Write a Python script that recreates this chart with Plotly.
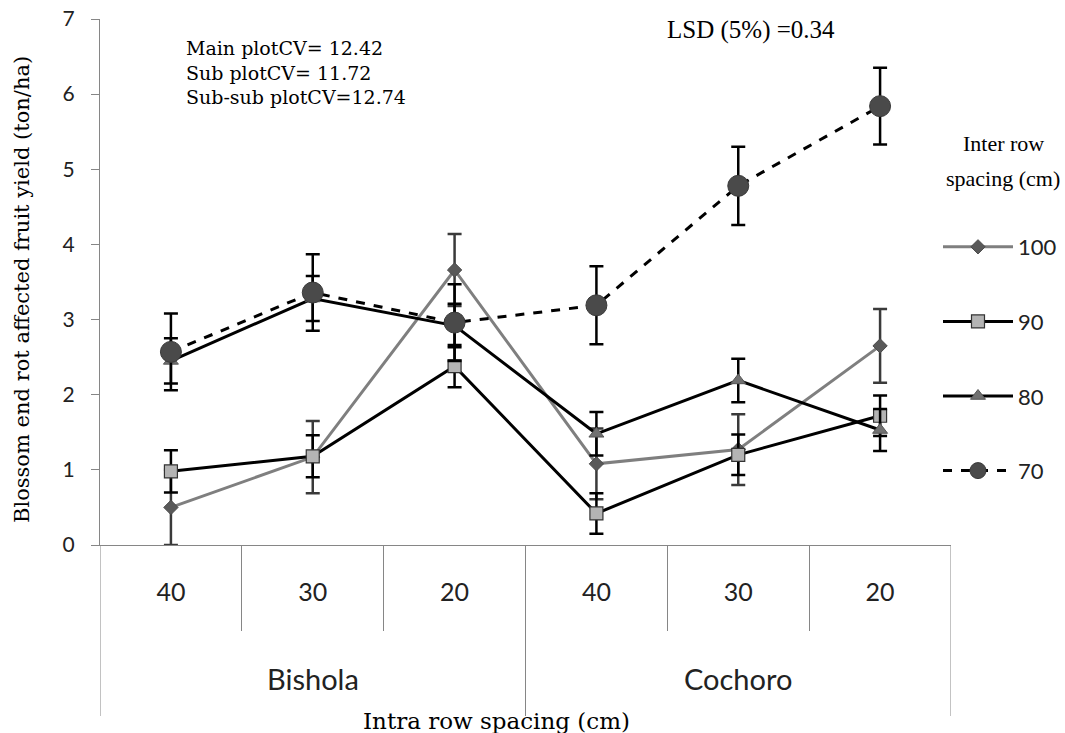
import plotly.graph_objects as go

# ---- data ----
locations = ["Bishola", "Bishola", "Bishola", "Cochoro", "Cochoro", "Cochoro"]
intra_spacing = ["40", "30", "20", "40", "30", "20"]
group_names = ["Bishola", "Cochoro"]

series_names = ["100", "90", "80", "70"]
v100 = [0.50, 1.17, 3.66, 1.08, 1.27, 2.65]
v90 = [0.98, 1.18, 2.38, 0.42, 1.20, 1.72]
v80 = [2.45, 3.28, 2.92, 1.48, 2.19, 1.53]
v70 = [2.57, 3.36, 2.96, 3.19, 4.78, 5.84]

e100 = [0.50, 0.48, 0.48, 0.47, 0.47, 0.49]
e90 = [0.28, 0.28, 0.28, 0.27, 0.27, 0.27]
e80 = [0.30, 0.30, 0.29, 0.29, 0.29, 0.28]
e70 = [0.51, 0.51, 0.51, 0.52, 0.52, 0.51]

y_ticks = [0, 1, 2, 3, 4, 5, 6, 7]

# ---- styling ----
x_pos = list(range(len(intra_spacing)))
AXIS_GREY = "#868686"
SERIF = "Liberation Serif"
BOOK = "DejaVu Serif"
SANS = "Lato"

styles = {
    "100": dict(line=dict(color="#7f7f7f", width=3),
                marker=dict(symbol="diamond", size=11, color="#595959",
                            line=dict(color="#4a4a4a", width=1)),
                err="#3a3a3a"),
    "90": dict(line=dict(color="#000000", width=3),
               marker=dict(symbol="square", size=13, color="#b4b4b4",
                           line=dict(color="#333333", width=1.2)),
               err="#000000"),
    "80": dict(line=dict(color="#000000", width=3),
               marker=dict(symbol="triangle-up", size=13, color="#707070",
                           line=dict(color="#555555", width=1)),
               err="#000000"),
    "70": dict(line=dict(color="#000000", width=3, dash="dash"),
               marker=dict(symbol="circle", size=21, color="#4a4a4a",
                           line=dict(color="#3a3a3a", width=1)),
               err="#000000"),
}

values = {"100": v100, "90": v90, "80": v80, "70": v70}
errors = {"100": e100, "90": e90, "80": e80, "70": e70}

fig = go.Figure()
for name in series_names:
    st = styles[name]
    fig.add_trace(go.Scatter(
        x=x_pos, y=values[name], name=name, mode="lines+markers",
        legendgroup=name,
        line=st["line"], marker=st["marker"],
        error_y=dict(type="data", array=errors[name], visible=True,
                     color=st["err"], thickness=2.5, width=7),
    ))

# plot geometry in screen pixels
W, H = 1065, 733
PL, PR, PT, PB = 100, 951, 19, 545          # plot area
L, R, T, B = PL, W - PR, PT, H - PB
pw, ph = PR - PL, PB - PT


def px_x(px):
    return (px - PL) / pw


def px_y(py):
    return (PB - py) / ph


fig.update_layout(
    width=W, height=H,
    margin=dict(l=L, r=R, t=T, b=B, autoexpand=False),
    paper_bgcolor="white", plot_bgcolor="white",
    showlegend=True,
    legend=dict(x=px_x(938), xanchor="left", y=px_y(226), yanchor="top",
                font=dict(family=SANS, size=22, color="#222222"),
                bgcolor="rgba(0,0,0,0)", tracegroupgap=43,
                itemwidth=70),
    xaxis=dict(
        range=[-0.5, 5.5], tickmode="array", tickvals=x_pos,
        ticktext=intra_spacing, showgrid=False, zeroline=False,
        showline=True, linecolor=AXIS_GREY, linewidth=1, automargin=False,
        ticks="", ticklabelstandoff=25,
        tickfont=dict(family=SANS, size=25, color="#222222"),
        minor=dict(tickmode="array", tickvals=[0.5, 1.5, 3.5, 4.5],
                   ticks="outside", ticklen=85, tickcolor=AXIS_GREY,
                   tickwidth=1, showgrid=False),
    ),
    yaxis=dict(
        range=[0, 7], tickmode="array", tickvals=y_ticks,
        showgrid=False, zeroline=False, showline=True, automargin=False,
        linecolor=AXIS_GREY, linewidth=1, ticks="outside", ticklen=8,
        tickcolor=AXIS_GREY, ticklabelstandoff=12,
        tickfont=dict(family=SANS, size=21, color="#222222"),
    ),
)

# long group dividers below the axis
group_bounds = [-0.5, 2.5, 5.5]
for xb in group_bounds:
    fig.add_shape(type="line", xref="x", yref="paper", x0=xb, x1=xb,
                  y0=0, y1=px_y(716), line=dict(color=AXIS_GREY, width=1))

# group labels
for i, g in enumerate(group_names):
    idx = [k for k, loc in enumerate(locations) if loc == g]
    fig.add_annotation(x=sum(idx) / len(idx), xref="x", y=px_y(678), yref="paper",
                       text=g, showarrow=False, xanchor="center", yanchor="middle",
                       font=dict(family=SANS, size=29, color="#222222"))

# axis titles
fig.add_annotation(x=px_x(496), y=px_y(721), xref="paper", yref="paper",
                   text="Intra row spacing (cm)", showarrow=False,
                   xanchor="center", yanchor="middle",
                   font=dict(family=BOOK, size=23, color="#000000"))
fig.add_annotation(x=px_x(22), y=px_y(290), xref="paper", yref="paper",
                   text="Blossom end rot affected fruit yield (ton/ha)",
                   textangle=-90, showarrow=False,
                   xanchor="center", yanchor="middle",
                   font=dict(family=BOOK, size=21, color="#000000"))

# statistics text
fig.add_annotation(x=px_x(184), y=px_y(35), xref="paper", yref="paper",
                   text="Main plotCV= 12.42<br>Sub plotCV= 11.72<br>Sub-sub plotCV=12.74",
                   showarrow=False, xanchor="left", yanchor="top", align="left",
                   font=dict(family=BOOK, size=19, color="#000000"))
fig.add_annotation(x=px_x(751), y=px_y(30), xref="paper", yref="paper",
                   text="LSD (5%) =0.34", showarrow=False,
                   xanchor="center", yanchor="middle",
                   font=dict(family=SERIF, size=25, color="#000000"))

# legend title
fig.add_annotation(x=px_x(1003), y=px_y(143), xref="paper", yref="paper",
                   text="Inter row", showarrow=False,
                   xanchor="center", yanchor="middle",
                   font=dict(family=SERIF, size=22, color="#000000"))
fig.add_annotation(x=px_x(1003), y=px_y(178), xref="paper", yref="paper",
                   text="spacing (cm)", showarrow=False,
                   xanchor="center", yanchor="middle",
                   font=dict(family=SERIF, size=22, color="#000000"))

fig.write_html(
    "out.html",
    config={"displayModeBar": False},
    post_script="document.body.style.margin='0';document.body.style.overflow='hidden';",
)
